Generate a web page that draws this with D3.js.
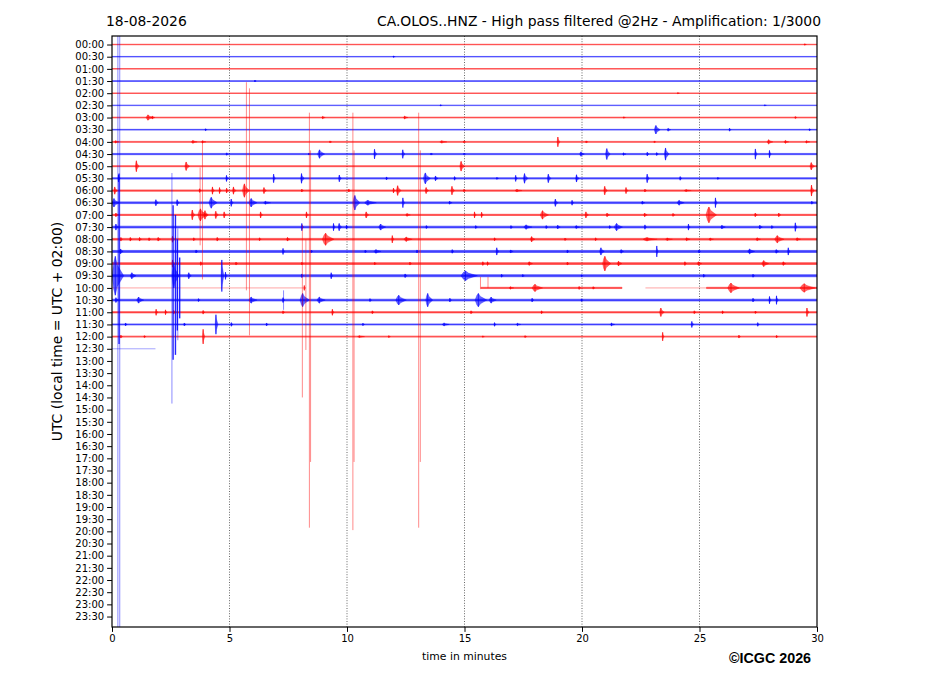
<!DOCTYPE html>
<html>
<head>
<meta charset="utf-8">
<script src="https://cdn.jsdelivr.net/npm/d3@7"></script>
<style>
    body { margin: 0; background: #fff; }
</style>
</head>
<body>
<div id="chart"></div>
<script>
// one row per half hour, every row holds 30 minutes of trace
const rowLabels = ["00:00", "00:30", "01:00", "01:30", "02:00", "02:30", "03:00", "03:30",
    "04:00", "04:30", "05:00", "05:30", "06:00", "06:30", "07:00", "07:30",
    "08:00", "08:30", "09:00", "09:30", "10:00", "10:30", "11:00", "11:30",
    "12:00", "12:30", "13:00", "13:30", "14:00", "14:30", "15:00", "15:30",
    "16:00", "16:30", "17:00", "17:30", "18:00", "18:30", "19:00", "19:30",
    "20:00", "20:30", "21:00", "21:30", "22:00", "22:30", "23:00", "23:30"]
const minuteTicks = [0, 5, 10, 15, 20, 25, 30]
const gridMinutes = [5, 10, 15, 20, 25]

// background noise per row (half amplitude, in row units), 0 = no data
const rowNoise = [0.02, 0.02, 0.02, 0.03, 0.02, 0.02, 0.03, 0.03,
    0.04, 0.05, 0.04, 0.05, 0.05, 0.07, 0.05, 0.07,
    0.07, 0.08, 0.07, 0.08, 0.05, 0.07, 0.05, 0.04,
    0.04, 0, 0, 0, 0, 0, 0, 0,
    0, 0, 0, 0, 0, 0, 0, 0,
    0, 0, 0, 0, 0, 0, 0, 0]

// [row, from minute, to minute]
const dataGaps = [[20, 0, 15.7], [20, 21.7, 25.3]]
const flatSegments = [[20, 0, 8.2], [20, 22.7, 25.3], [25, 0, 1.85]]

// [row, minute, amplitude (row units), duration (minutes)]
const bursts = [
    [0, 29.5, 0.06, 0.1], [1, 12.0, 0.06, 0.1], [3, 6.1, 0.08, 0.08], [4, 24.1, 0.05, 0.1],
    [5, 14.0, 0.05, 0.1], [5, 27.8, 0.05, 0.1],
    [6, 1.6, 0.22, 0.3], [6, 1.75, 0.12, 0.15], [6, 9.0, 0.1, 0.15], [6, 12.5, 0.12, 0.2], [6, 21.8, 0.06, 0.1], [6, 29.1, 0.08, 0.1],
    [7, 4.0, 0.08, 0.1], [7, 23.2, 0.35, 0.25], [7, 23.7, 0.12, 0.15], [7, 26.3, 0.12, 0.1], [7, 29.7, 0.08, 0.1],
    [8, 0.2, 0.1, 0.2], [8, 3.5, 0.12, 0.25], [8, 3.9, 0.1, 0.2], [8, 9.3, 0.08, 0.1], [8, 14.1, 0.1, 0.3], [8, 15.0, 0.08, 0.1],
    [8, 19.0, 0.4, 0.12], [8, 20.2, 0.08, 0.1], [8, 23.1, 0.06, 0.1], [8, 28.0, 0.18, 0.25], [8, 28.7, 0.12, 0.2], [8, 29.6, 0.1, 0.2],
    [9, 4.9, 0.1, 0.1], [9, 8.4, 0.08, 0.1], [9, 8.9, 0.35, 0.3], [9, 11.2, 0.4, 0.12], [9, 12.4, 0.35, 0.12], [9, 13.6, 0.08, 0.1],
    [9, 15.0, 0.06, 0.1], [9, 20.0, 0.18, 0.2], [9, 21.1, 0.45, 0.2], [9, 21.8, 0.1, 0.15], [9, 22.8, 0.15, 0.1], [9, 23.2, 0.12, 0.1],
    [9, 23.6, 0.5, 0.2], [9, 27.4, 0.42, 0.1], [9, 28.0, 0.3, 0.1],
    [10, 1.07, 0.45, 0.15], [10, 3.2, 0.35, 0.2], [10, 14.9, 0.4, 0.2], [10, 29.8, 0.3, 0.2],
    [11, 0.3, 0.3, 0.1], [11, 4.9, 0.25, 0.12], [11, 6.9, 0.35, 0.1], [11, 8.1, 0.4, 0.15], [11, 9.7, 0.28, 0.12], [11, 11.7, 0.12, 0.1],
    [11, 13.4, 0.45, 0.3], [11, 13.8, 0.2, 0.15], [11, 14.6, 0.15, 0.1], [11, 16.4, 0.08, 0.1], [11, 17.2, 0.25, 0.1], [11, 17.6, 0.4, 0.2],
    [11, 18.6, 0.35, 0.15], [11, 19.8, 0.3, 0.15], [11, 22.8, 0.35, 0.12], [11, 24.2, 0.15, 0.1], [11, 25.8, 0.08, 0.1],
    [12, 0.15, 0.3, 0.15], [12, 3.75, 0.15, 0.1], [12, 4.3, 0.3, 0.12], [12, 4.6, 0.25, 0.1], [12, 4.9, 0.2, 0.1], [12, 5.2, 0.3, 0.15],
    [12, 5.7, 0.55, 0.3], [12, 6.5, 0.25, 0.15], [12, 8.1, 0.12, 0.1], [12, 10.1, 0.12, 0.1], [12, 12.0, 0.2, 0.1], [12, 12.2, 0.4, 0.2],
    [12, 13.4, 0.25, 0.15], [12, 14.5, 0.35, 0.15], [12, 15.0, 0.1, 0.1], [12, 17.3, 0.1, 0.3], [12, 21.0, 0.35, 0.15], [12, 21.9, 0.25, 0.12],
    [12, 22.7, 0.12, 0.1], [12, 24.5, 0.08, 0.3], [12, 29.8, 0.45, 0.15],
    [13, 0.15, 0.35, 0.3], [13, 1.9, 0.25, 0.15], [13, 2.8, 0.25, 0.12], [13, 4.3, 0.45, 0.35], [13, 5.1, 0.3, 0.12], [13, 6.0, 0.35, 0.35],
    [13, 6.6, 0.12, 0.3], [13, 10.4, 0.6, 0.3], [13, 11.0, 0.2, 0.5], [13, 12.4, 0.4, 0.1], [13, 14.4, 0.12, 0.15], [13, 18.9, 0.3, 0.15],
    [13, 19.6, 0.2, 0.1], [13, 22.6, 0.12, 0.15], [13, 24.2, 0.2, 0.3], [13, 25.7, 0.4, 0.1], [13, 29.8, 0.12, 0.1],
    [14, 0.2, 0.15, 0.15], [14, 3.45, 0.4, 0.15], [14, 3.85, 0.5, 0.4], [14, 4.0, 0.35, 0.2], [14, 4.45, 0.3, 0.15], [14, 4.8, 0.25, 0.12],
    [14, 6.35, 0.25, 0.12], [14, 8.3, 0.25, 0.12], [14, 10.85, 0.25, 0.15], [14, 12.6, 0.12, 0.2], [14, 15.45, 0.25, 0.1], [14, 15.75, 0.22, 0.1],
    [14, 18.4, 0.35, 0.35], [14, 20.2, 0.25, 0.15], [14, 21.1, 0.15, 0.15], [14, 22.7, 0.15, 0.15], [14, 23.9, 0.12, 0.12], [14, 25.5, 0.65, 0.45],
    [14, 27.4, 0.15, 0.12], [14, 28.4, 0.15, 0.12],
    [15, 0.2, 0.25, 0.15], [15, 8.1, 0.3, 0.1], [15, 9.45, 0.3, 0.1], [15, 9.7, 0.3, 0.15], [15, 10.0, 0.15, 0.1], [15, 11.5, 0.25, 0.3],
    [15, 13.4, 0.12, 0.1], [15, 15.5, 0.12, 0.1], [15, 17.0, 0.12, 0.1], [15, 17.7, 0.18, 0.35], [15, 18.5, 0.12, 0.1], [15, 19.0, 0.15, 0.15],
    [15, 19.8, 0.12, 0.2], [15, 21.2, 0.12, 0.1], [15, 21.55, 0.3, 0.35], [15, 22.7, 0.18, 0.1], [15, 24.55, 0.25, 0.1], [15, 26.0, 0.15, 0.2],
    [15, 27.6, 0.15, 0.15], [15, 28.1, 0.12, 0.1], [15, 29.1, 0.35, 0.1],
    [16, 0.4, 0.15, 0.1], [16, 0.8, 0.15, 0.1], [16, 1.2, 0.15, 0.12], [16, 1.6, 0.12, 0.1], [16, 2.0, 0.15, 0.15], [16, 2.6, 0.25, 0.12],
    [16, 3.5, 0.12, 0.1], [16, 4.5, 0.15, 0.1], [16, 6.3, 0.12, 0.1], [16, 7.5, 0.15, 0.15], [16, 9.2, 0.5, 0.5], [16, 11.95, 0.3, 0.1],
    [16, 12.6, 0.18, 0.35], [16, 16.3, 0.12, 0.1], [16, 17.9, 0.22, 0.2], [16, 19.3, 0.1, 0.1], [16, 20.6, 0.12, 0.1], [16, 22.9, 0.14, 0.6],
    [16, 23.7, 0.1, 0.3], [16, 24.5, 0.12, 0.2], [16, 25.5, 0.1, 0.2], [16, 27.5, 0.12, 0.2], [16, 28.4, 0.3, 0.4], [16, 29.2, 0.12, 0.2],
    [17, 0.4, 0.2, 0.15], [17, 3.6, 0.12, 0.1], [17, 7.3, 0.25, 0.1], [17, 8.5, 0.1, 0.1], [17, 10.8, 0.1, 0.1], [17, 11.3, 0.15, 0.3],
    [17, 13.0, 0.12, 0.1], [17, 14.5, 0.15, 0.1], [17, 16.4, 0.3, 0.12], [17, 17.0, 0.12, 0.15], [17, 19.4, 0.12, 0.1], [17, 20.85, 0.3, 0.2],
    [17, 21.7, 0.15, 0.15], [17, 23.2, 0.45, 0.08], [17, 25.0, 0.12, 0.1], [17, 27.2, 0.2, 0.3], [17, 28.3, 0.15, 0.15], [17, 28.8, 0.3, 0.1],
    [18, 2.6, 0.3, 0.1], [18, 3.8, 0.15, 0.1], [18, 5.3, 0.12, 0.1], [18, 8.1, 0.1, 0.1], [18, 11.2, 0.1, 0.1], [18, 12.7, 0.12, 0.1],
    [18, 15.8, 0.15, 0.1], [18, 16.0, 0.15, 0.1], [18, 17.8, 0.15, 0.2], [18, 19.4, 0.12, 0.1], [18, 21.05, 0.6, 0.35], [18, 21.6, 0.2, 0.2],
    [18, 24.4, 0.15, 0.1], [18, 25.0, 0.15, 0.2], [18, 27.8, 0.25, 0.3], [18, 28.6, 0.15, 0.15],
    [19, 0.25, 1.6, 0.5], [19, 0.9, 0.25, 0.25], [19, 2.7, 1.0, 0.3], [19, 3.3, 0.25, 0.15], [19, 4.7, 1.3, 0.12], [19, 4.85, 0.3, 0.1],
    [19, 8.1, 0.15, 0.1], [19, 9.35, 0.25, 0.1], [19, 12.5, 0.15, 0.12], [19, 15.2, 0.4, 0.7], [19, 16.6, 0.12, 0.1], [19, 17.5, 0.1, 0.1],
    [19, 20.0, 0.08, 0.1], [19, 25.2, 0.12, 0.1], [19, 27.3, 0.12, 0.1],
    [20, 8.2, 0.2, 0.08], [20, 17.0, 0.1, 0.2], [20, 18.1, 0.3, 0.45], [20, 19.9, 0.12, 0.1], [20, 20.5, 0.1, 0.1], [20, 26.45, 0.4, 0.5],
    [20, 29.6, 0.35, 0.65],
    [21, 0.2, 0.2, 0.15], [21, 1.2, 0.25, 0.3], [21, 3.7, 0.12, 0.1], [21, 6.0, 0.25, 0.35], [21, 7.3, 0.2, 0.1], [21, 8.2, 0.55, 0.4],
    [21, 8.9, 0.25, 0.35], [21, 11.0, 0.12, 0.1], [21, 12.3, 0.4, 0.45], [21, 13.5, 0.55, 0.3], [21, 14.4, 0.15, 0.1], [21, 15.7, 0.55, 0.5],
    [21, 16.2, 0.25, 0.3], [21, 17.9, 0.15, 0.1], [21, 20.0, 0.1, 0.1], [21, 27.3, 0.15, 0.1], [21, 28.0, 0.3, 0.1], [21, 28.3, 0.35, 0.1],
    [22, 1.9, 0.25, 0.1], [22, 2.3, 0.2, 0.1], [22, 2.65, 0.15, 0.1], [22, 3.9, 0.15, 0.1], [22, 7.3, 0.12, 0.1], [22, 9.4, 0.25, 0.1],
    [22, 11.1, 0.12, 0.1], [22, 15.3, 0.12, 0.1], [22, 18.3, 0.12, 0.1], [22, 23.4, 0.35, 0.2], [22, 24.8, 0.12, 0.1], [22, 26.0, 0.12, 0.1],
    [22, 27.4, 0.1, 0.1], [22, 29.6, 0.35, 0.12],
    [23, 0.6, 0.12, 0.1], [23, 3.1, 0.12, 0.1], [23, 4.45, 0.8, 0.12], [23, 5.1, 0.15, 0.1], [23, 6.6, 0.12, 0.1], [23, 10.7, 0.1, 0.1],
    [23, 14.2, 0.12, 0.3], [23, 16.3, 0.15, 0.1], [23, 17.3, 0.1, 0.2], [23, 21.3, 0.12, 0.2], [23, 24.7, 0.25, 0.12], [23, 27.5, 0.15, 0.1],
    [24, 0.4, 0.12, 0.1], [24, 1.4, 0.08, 0.1], [24, 3.9, 0.6, 0.1], [24, 10.6, 0.08, 0.3], [24, 11.8, 0.08, 0.1], [24, 15.8, 0.06, 0.1],
    [24, 17.6, 0.08, 0.1], [24, 23.45, 0.35, 0.08], [24, 26.7, 0.12, 0.1], [24, 28.3, 0.1, 0.1]
]

// clipped strong motion that runs over several rows: [row, minute, top row, bottom row]
const spikes = [
    [19, 0.25, -0.7, 47.86], [19, 0.33, -0.7, 47.86],
    [19, 2.55, 10.56, 29.5], [19, 2.8, 15.1, 24.3],
    [14, 3.75, 10.1, 16.5], [14, 3.85, 8.0, 19.3],
    [12, 5.72, 3.1, 20.2], [12, 5.85, 3.6, 23.9],
    [20, 8.1, 14.8, 29.0], [20, 8.25, 16.0, 25.1], [20, 8.4, 5.6, 39.7], [20, 8.45, 8.7, 34.3],
    [20, 10.25, 5.6, 39.9], [20, 10.3, 8.7, 34.3],
    [20, 13.05, 5.6, 39.7], [20, 13.12, 8.7, 34.3],
    [21, 7.3, 20.2, 21.8], [20, 15.68, 19.1, 20.1], [20, 16.0, 19.1, 20.0]
]
// the same, where many swings lie on top of each other
const denseSpikes = [
    [19, 0.3, 10.6, 24.6], [19, 2.6, 13.2, 25.9], [19, 2.7, 14.0, 25.5],
    [19, 2.78, 16.0, 23.5], [19, 2.88, 17.5, 22.5]
]

// relative envelope of one burst (position in duration, share of amplitude)
const burstShape = [[-0.5, 0], [-0.35, 0.7], [-0.22, 1], [-0.05, 0.55], [0.2, 0.3], [0.5, 0]]

const width = 927, height = 696
const plot = { left: 112, right: 817, top: 36, bottom: 627 }

const svg = d3.select("#chart")
    .append("svg")
    .attr("width", width)
    .attr("height", height)
    .style("font-family", "'DejaVu Sans', sans-serif")

const x = d3.scaleLinear().domain([0, 30]).range([plot.left, plot.right])
const y = d3.scaleLinear().domain([-0.7, 47.86]).range([plot.top, plot.bottom])
const rowColor = r => (r % 2 === 0 ? "#ff0000" : "#0000ff")

svg.append("defs").append("clipPath").attr("id", "plot-clip")
    .append("rect")
    .attr("x", plot.left).attr("y", plot.top)
    .attr("width", plot.right - plot.left).attr("height", plot.bottom - plot.top)

// dotted minute grid
svg.append("g")
    .selectAll("line")
    .data(gridMinutes)
    .join("line")
    .attr("x1", d => x(d)).attr("x2", d => x(d))
    .attr("y1", plot.top).attr("y2", plot.bottom)
    .attr("stroke", "#000")
    .attr("stroke-width", 0.8)
    .attr("stroke-opacity", 0.75)
    .attr("stroke-dasharray", "1,1.6")

const traces = svg.append("g").attr("clip-path", "url(#plot-clip)")

// split every row with data into the parts outside its gaps
const spans = []
rowNoise.forEach((noise, r) => {
    if (noise <= 0) return
    let start = 0
    dataGaps.filter(g => g[0] === r).sort((a, b) => a[1] - b[1]).forEach(g => {
        if (g[1] > start) spans.push([r, start, g[1], noise])
        start = g[2]
    })
    if (start < 30) spans.push([r, start, 30, noise])
})

const band = d3.area()
    .x(d => x(d.m))
    .y0(d => y(d.r - d.a))
    .y1(d => y(d.r + d.a))

traces.selectAll(".span")
    .data(spans)
    .join("path")
    .attr("class", "span")
    .attr("d", d => band([{ m: d[1], r: d[0], a: d[3] }, { m: d[2], r: d[0], a: d[3] }]))
    .attr("fill", d => rowColor(d[0]))
    .attr("stroke", d => rowColor(d[0]))
    .attr("stroke-width", 0.7)
    .attr("opacity", 0.75)

traces.selectAll(".flat")
    .data(flatSegments)
    .join("line")
    .attr("class", "flat")
    .attr("x1", d => x(d[1])).attr("x2", d => x(d[2]))
    .attr("y1", d => y(d[0])).attr("y2", d => y(d[0]))
    .attr("stroke", d => rowColor(d[0]))
    .attr("stroke-width", 1)
    .attr("opacity", 0.35)

traces.selectAll(".burst")
    .data(bursts)
    .join("path")
    .attr("class", "burst")
    .attr("d", d => band(burstShape.map(s => ({ m: d[1] + s[0] * d[3], r: d[0], a: d[2] * s[1] }))))
    .attr("fill", d => rowColor(d[0]))
    .attr("fill-opacity", 0.6)
    .attr("stroke", d => rowColor(d[0]))
    .attr("stroke-width", 0.4)
    .attr("stroke-opacity", 0.8)

// a swing line through the middle of every burst
traces.selectAll(".burst-peak")
    .data(bursts)
    .join("line")
    .attr("class", "burst-peak")
    .attr("x1", d => x(d[1] - 0.22 * d[3])).attr("x2", d => x(d[1] - 0.22 * d[3]))
    .attr("y1", d => y(d[0] - d[2])).attr("y2", d => y(d[0] + d[2]))
    .attr("stroke", d => rowColor(d[0]))
    .attr("stroke-width", 0.8)
    .attr("opacity", 0.85)

traces.selectAll(".spike")
    .data(spikes)
    .join("line")
    .attr("class", "spike")
    .attr("x1", d => x(d[1])).attr("x2", d => x(d[1]))
    .attr("y1", d => y(d[2])).attr("y2", d => y(d[3]))
    .attr("stroke", d => rowColor(d[0]))
    .attr("stroke-width", 1)
    .attr("opacity", 0.45)

traces.selectAll(".dense")
    .data(denseSpikes)
    .join("line")
    .attr("class", "dense")
    .attr("x1", d => x(d[1])).attr("x2", d => x(d[1]))
    .attr("y1", d => y(d[2])).attr("y2", d => y(d[3]))
    .attr("stroke", d => rowColor(d[0]))
    .attr("stroke-width", 1.4)
    .attr("opacity", 0.85)

// frame
svg.append("rect")
    .attr("x", plot.left).attr("y", plot.top)
    .attr("width", plot.right - plot.left).attr("height", plot.bottom - plot.top)
    .attr("fill", "none")
    .attr("stroke", "#000")
    .attr("stroke-width", 1.2)

const yAxis = d3.axisLeft(y)
    .tickValues(d3.range(rowLabels.length))
    .tickFormat(i => rowLabels[i])
    .tickSize(4.9)
    .tickPadding(3)
svg.append("g")
    .attr("class", "axis y-axis")
    .attr("transform", "translate(" + plot.left + ",0)")
    .call(yAxis)

const xAxis = d3.axisBottom(x)
    .tickValues(minuteTicks)
    .tickFormat(d3.format("d"))
    .tickSize(4.9)
    .tickPadding(3)
svg.append("g")
    .attr("class", "axis x-axis")
    .attr("transform", "translate(0," + plot.bottom + ")")
    .call(xAxis)

svg.selectAll(".axis .domain").remove()
svg.selectAll(".axis").attr("font-family", null)
svg.selectAll(".axis text")
    .attr("font-size", 10)
    .attr("fill", "#000")
svg.selectAll(".axis line").attr("stroke", "#000").attr("stroke-width", 1)

svg.append("text")
    .text("18-08-2026")
    .attr("x", 106).attr("y", 25.5)
    .attr("font-size", 13.9)

svg.append("text")
    .text("CA.OLOS..HNZ - High pass filtered @2Hz - Amplification: 1/3000")
    .attr("x", 821).attr("y", 25.5)
    .attr("text-anchor", "end")
    .attr("font-size", 13.9)

svg.append("text")
    .text("time in minutes")
    .attr("x", (plot.left + plot.right) / 2).attr("y", 660)
    .attr("text-anchor", "middle")
    .attr("font-size", 10.8)

svg.append("text")
    .text("UTC (local time = UTC + 02:00)")
    .attr("transform", "translate(62," + (plot.top + plot.bottom) / 2 + ") rotate(-90)")
    .attr("text-anchor", "middle")
    .attr("font-size", 13.9)

svg.append("text")
    .text("©ICGC 2026")
    .attr("x", 729).attr("y", 663)
    .style("font-family", "'Liberation Sans', Arial, sans-serif")
    .attr("font-weight", "bold")
    .attr("font-size", 14.3)
</script>
</body>
</html>
